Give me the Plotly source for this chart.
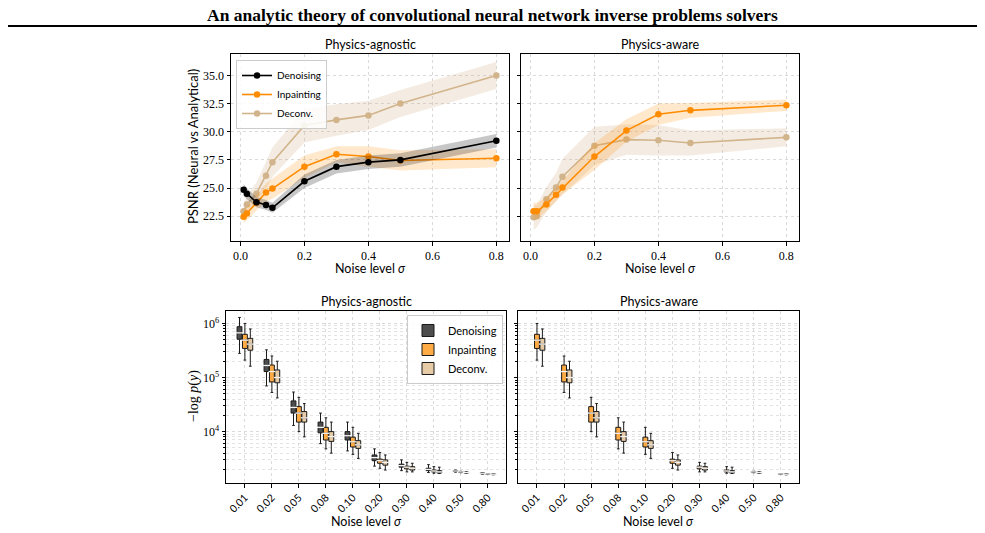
import plotly.graph_objects as go

# noise levels
sigma = [0.01, 0.02, 0.05, 0.08, 0.1, 0.2, 0.3, 0.4, 0.5, 0.8]
sigma_labels = ["0.01", "0.02", "0.05", "0.08", "0.10", "0.20", "0.30", "0.40", "0.50", "0.80"]

# PSNR, physics-agnostic
den_mean = [24.85, 24.5, 23.75, 23.5, 23.25, 25.6, 26.9, 27.3, 27.5, 29.2]
den_std = [0.5, 0.5, 0.45, 0.45, 0.45, 0.6, 0.6, 0.6, 0.6, 0.6]
inp_mean = [22.45, 22.75, 23.7, 24.6, 24.95, 26.9, 28.0, 27.8, 27.45, 27.65]
inp_std = [0.6, 0.6, 0.7, 0.8, 0.9, 1.0, 0.7, 0.9, 0.9, 0.8]
dec_mean = [22.95, 23.55, 24.5, 26.1, 27.3, 30.55, 31.05, 31.45, 32.5, 35.0]
dec_std = [0.6, 0.8, 1.0, 1.2, 1.3, 1.5, 1.4, 1.3, 1.2, 1.2]

# PSNR, physics-aware
inp_aw_mean = [22.95, 22.95, 23.55, 24.4, 25.05, 27.8, 30.1, 31.55, 31.9, 32.35]
inp_aw_std = [0.75, 0.75, 0.6, 0.6, 0.6, 1.2, 1.0, 0.95, 0.65, 0.5]
dec_aw_mean = [22.4, 22.5, 24.0, 25.05, 26.0, 28.75, 29.3, 29.25, 29.0, 29.5]
dec_aw_std = [1.1, 1.0, 1.1, 1.3, 1.6, 1.7, 1.35, 1.35, 1.1, 0.8]

# -log p(y) box statistics
den_hi = [1.29e6, 3.25e5, 5.4e4, 2.2e4, 1.5e4, 4.8e3, 3.0e3, 2.45e3, 1.95e3, 1.75e3]
den_q3 = [8.7e5, 2.16e5, 3.7e4, 1.5e4, 1.0e4, 3.7e3, 2.5e3, 2.1e3, 1.9e3, 1.72e3]
den_med = [6.7e5, 1.67e5, 2.8e4, 1.2e4, 8.4e3, 3.3e3, 2.35e3, 2.0e3, 1.87e3, 1.7e3]
den_q1 = [5.1e5, 1.29e5, 2.2e4, 9.5e3, 7.0e3, 2.9e3, 2.2e3, 1.9e3, 1.83e3, 1.67e3]
den_lo = [2.8e5, 7.0e4, 1.3e4, 6.0e3, 4.4e3, 2.3e3, 1.9e3, 1.75e3, 1.78e3, 1.64e3]

inp_hi = [1.0e6, 2.5e5, 4.3e4, 1.8e4, 1.2e4, 4.1e3, 2.7e3, 2.25e3, 1.85e3, 1.68e3]
inp_q3 = [6.3e5, 1.7e5, 2.9e4, 1.2e4, 7.9e3, 3.1e3, 2.3e3, 1.95e3, 1.82e3, 1.66e3]
inp_med = [4.9e5, 1.29e5, 2.2e4, 9.3e3, 6.5e3, 2.9e3, 2.2e3, 1.87e3, 1.8e3, 1.65e3]
inp_q1 = [3.45e5, 8.3e4, 1.5e4, 7.0e3, 5.2e3, 2.6e3, 2.05e3, 1.8e3, 1.77e3, 1.63e3]
inp_lo = [2.1e5, 5.3e4, 1.0e4, 4.8e3, 3.8e3, 2.1e3, 1.8e3, 1.7e3, 1.74e3, 1.61e3]

dec_hi = [7.9e5, 2.0e5, 3.3e4, 1.5e4, 9.3e3, 3.7e3, 2.6e3, 2.2e3, 1.8e3, 1.66e3]
dec_q3 = [5.3e5, 1.38e5, 2.35e4, 1.0e4, 6.8e3, 3.0e3, 2.25e3, 1.9e3, 1.78e3, 1.64e3]
dec_med = [4.15e5, 1.0e5, 1.8e4, 8.1e3, 5.7e3, 2.7e3, 2.1e3, 1.8e3, 1.75e3, 1.63e3]
dec_q1 = [3.2e5, 8.0e4, 1.5e4, 6.6e3, 4.9e3, 2.4e3, 1.95e3, 1.72e3, 1.72e3, 1.61e3]
dec_lo = [1.62e5, 4.2e4, 8.0e3, 4.0e3, 3.2e3, 1.95e3, 1.8e3, 1.68e3, 1.7e3, 1.59e3]

SANS = "Lato"
SERIF = "Liberation Serif"
# the page body has an 8px margin, so the figure sits at (8, 8) in the window
PAD = 8
W, H = 985, 533

LINE_COLORS = {"Denoising": "black", "Inpainting": "#ff8c00", "Deconv.": "#d2b48c"}
BAND_COLORS = {"Denoising": "rgba(0,0,0,0.22)", "Inpainting": "rgba(255,140,0,0.2)",
               "Deconv.": "rgba(210,180,140,0.25)"}
BOX_COLORS = {"Denoising": "#4d4d4d", "Inpainting": "#ffab45", "Deconv.": "#e6cba6"}


def px_x(p):
    return (p - PAD) / W


def px_y(p):
    return 1 - (p - PAD) / H


fig = go.Figure()


def add_psnr(name, mean, std, xa, ya):
    upper = [m + s for m, s in zip(mean, std)]
    lower = [m - s for m, s in zip(mean, std)]
    fig.add_trace(go.Scatter(x=sigma, y=upper, mode="lines", line=dict(width=0),
                             xaxis=xa, yaxis=ya, showlegend=False, hoverinfo="skip"))
    fig.add_trace(go.Scatter(x=sigma, y=lower, mode="lines", line=dict(width=0),
                             fill="tonexty", fillcolor=BAND_COLORS[name],
                             xaxis=xa, yaxis=ya, showlegend=False, hoverinfo="skip"))
    fig.add_trace(go.Scatter(x=sigma, y=mean, mode="lines+markers", name=name,
                             line=dict(color=LINE_COLORS[name], width=1.6),
                             marker=dict(color=LINE_COLORS[name], size=6.5),
                             xaxis=xa, yaxis=ya, showlegend=False))


add_psnr("Deconv.", dec_mean, dec_std, "x", "y")
add_psnr("Inpainting", inp_mean, inp_std, "x", "y")
add_psnr("Denoising", den_mean, den_std, "x", "y")
add_psnr("Deconv.", dec_aw_mean, dec_aw_std, "x2", "y2")
add_psnr("Inpainting", inp_aw_mean, inp_aw_std, "x2", "y2")

# legend-only entries in matplotlib order
for nm in ["Denoising", "Inpainting", "Deconv."]:
    fig.add_trace(go.Scatter(x=[None], y=[None], mode="lines+markers", name=nm,
                             line=dict(color=LINE_COLORS[nm], width=1.6),
                             marker=dict(color=LINE_COLORS[nm], size=6.5),
                             xaxis="x", yaxis="y", legend="legend"))

OFFSET = 0.2
BOXW = 0.18


def add_boxes(name, k, q1, med, q3, lo, hi, xa, ya, legend):
    pos = [i + k * OFFSET for i in range(len(sigma))]
    fig.add_trace(go.Box(x=pos, q1=q1, median=med, q3=q3, lowerfence=lo, upperfence=hi,
                         name=name, width=BOXW, whiskerwidth=0.55,
                         fillcolor=BOX_COLORS[name], line=dict(color="#1a1a1a", width=1),
                         xaxis=xa, yaxis=ya, showlegend=legend, legend="legend2",
                         hoverinfo="skip"))
    fig.add_trace(go.Scatter(x=pos, y=med, mode="markers",
                             marker=dict(symbol="line-ew", size=5,
                                         line=dict(color="#f4f4f4", width=1.3)),
                             xaxis=xa, yaxis=ya, showlegend=False, hoverinfo="skip"))


add_boxes("Denoising", -1, den_q1, den_med, den_q3, den_lo, den_hi, "x3", "y3", True)
add_boxes("Inpainting", 0, inp_q1, inp_med, inp_q3, inp_lo, inp_hi, "x3", "y3", True)
add_boxes("Deconv.", 1, dec_q1, dec_med, dec_q3, dec_lo, dec_hi, "x3", "y3", True)
add_boxes("Inpainting", 0, inp_q1, inp_med, inp_q3, inp_lo, inp_hi, "x4", "y4", False)
add_boxes("Deconv.", 1, dec_q1, dec_med, dec_q3, dec_lo, dec_hi, "x4", "y4", False)

grid = dict(showgrid=True, gridcolor="#dadada", griddash="dot", gridwidth=0.8)
frame = dict(showline=True, linecolor="black", linewidth=1, mirror=True,
             ticks="outside", ticklen=3.5, tickcolor="black", zeroline=False)

top_x = dict(range=[-0.0295, 0.8395], tickvals=[0, 0.2, 0.4, 0.6, 0.8],
             ticktext=["0.0", "0.2", "0.4", "0.6", "0.8"],
             tickfont=dict(family=SERIF, size=12, color="black"), **grid, **frame)
top_y = dict(range=[20.3, 36.9], tickvals=[22.5, 25, 27.5, 30, 32.5, 35],
             ticktext=["22.5", "25.0", "27.5", "30.0", "32.5", "35.0"],
             tickfont=dict(family=SERIF, size=12, color="black"), **grid, **frame)
bot_x = dict(range=[-0.7, 9.67], tickvals=list(range(len(sigma))), ticktext=sigma_labels,
             tickangle=-45, tickfont=dict(family=SANS, size=10.5, color="black"),
             **grid, **frame)
bot_y = dict(type="log", range=[3.05, 6.23], tickvals=[1e4, 1e5, 1e6],
             ticktext=["10<sup>4</sup>", "10<sup>5</sup>", "10<sup>6</sup>"],
             tickfont=dict(family=SERIF, size=12, color="black"),
             minor=dict(tickvals=[m * 10 ** e for e in range(3, 7) for m in range(2, 10)],
                        showgrid=True, gridcolor="#e3e3e3", griddash="dot", gridwidth=0.7,
                        ticks="outside", ticklen=2, tickcolor="black"),
             **grid, **frame)

fig.update_layout(
    width=W, height=H, margin=dict(l=0, r=0, t=0, b=0),
    paper_bgcolor="white", plot_bgcolor="white",
    font=dict(family=SANS, size=12, color="black"),
    xaxis=dict(domain=[px_x(231), px_x(509)], anchor="y", **top_x),
    yaxis=dict(domain=[px_y(241), px_y(54)], anchor="x", **top_y),
    xaxis2=dict(domain=[px_x(521), px_x(799)], anchor="y2", **top_x),
    yaxis2=dict(domain=[px_y(241), px_y(54)], anchor="x2", matches="y", showticklabels=False,
                **top_y),
    xaxis3=dict(domain=[px_x(226), px_x(506)], anchor="y3", **bot_x),
    yaxis3=dict(domain=[px_y(483), px_y(311)], anchor="x3", **bot_y),
    xaxis4=dict(domain=[px_x(518), px_x(799)], anchor="y4", **bot_x),
    yaxis4=dict(domain=[px_y(483), px_y(311)], anchor="x4", showticklabels=False, **bot_y),
    legend=dict(x=px_x(236), y=px_y(60), xanchor="left", yanchor="top", traceorder="normal",
                bgcolor="rgba(255,255,255,0.85)", bordercolor="#cccccc", borderwidth=1,
                font=dict(family=SANS, size=10), tracegroupgap=0, itemwidth=30),
    legend2=dict(x=px_x(407), y=px_y(315), xanchor="left", yanchor="top", traceorder="normal",
                 bgcolor="rgba(255,255,255,0.85)", bordercolor="#cccccc", borderwidth=1,
                 font=dict(family=SANS, size=11), tracegroupgap=0, itemwidth=30),
    showlegend=True,
)

ann = []
ann.append(dict(text="<b>An analytic theory of convolutional neural network inverse problems solvers</b>",
                x=px_x(492), y=px_y(15), font=dict(family=SERIF, size=17.5, color="black")))
for cx, cy, t in [((231 + 509) / 2, 45, "Physics-agnostic"), ((521 + 799) / 2, 45, "Physics-aware"),
                  ((226 + 506) / 2, 301, "Physics-agnostic"), ((518 + 799) / 2, 301, "Physics-aware")]:
    ann.append(dict(text=t, x=px_x(cx), y=px_y(cy), font=dict(family=SANS, size=12.5)))
for cx, cy in [((231 + 509) / 2, 268.5), ((521 + 799) / 2, 268.5),
               ((226 + 506) / 2, 521), ((518 + 799) / 2, 521)]:
    ann.append(dict(text="Noise level <i>σ</i>", x=px_x(cx), y=px_y(cy),
                    font=dict(family=SANS, size=12.5)))
ann.append(dict(text="PSNR (Neural vs Analytical)", x=px_x(193), y=px_y(147), textangle=-90,
                font=dict(family=SANS, size=13)))
ann.append(dict(text="−log <i>p</i>(<i>y</i>)", x=px_x(194), y=px_y(396), textangle=-90,
                font=dict(family=SERIF, size=14)))
for a in ann:
    a.update(xref="paper", yref="paper", showarrow=False, xanchor="center", yanchor="middle")
fig.update_layout(annotations=ann)

fig.add_shape(type="line", xref="paper", yref="paper", x0=px_x(6), x1=px_x(979),
              y0=px_y(26), y1=px_y(26), line=dict(color="black", width=2))

fig.write_html("out.html")
